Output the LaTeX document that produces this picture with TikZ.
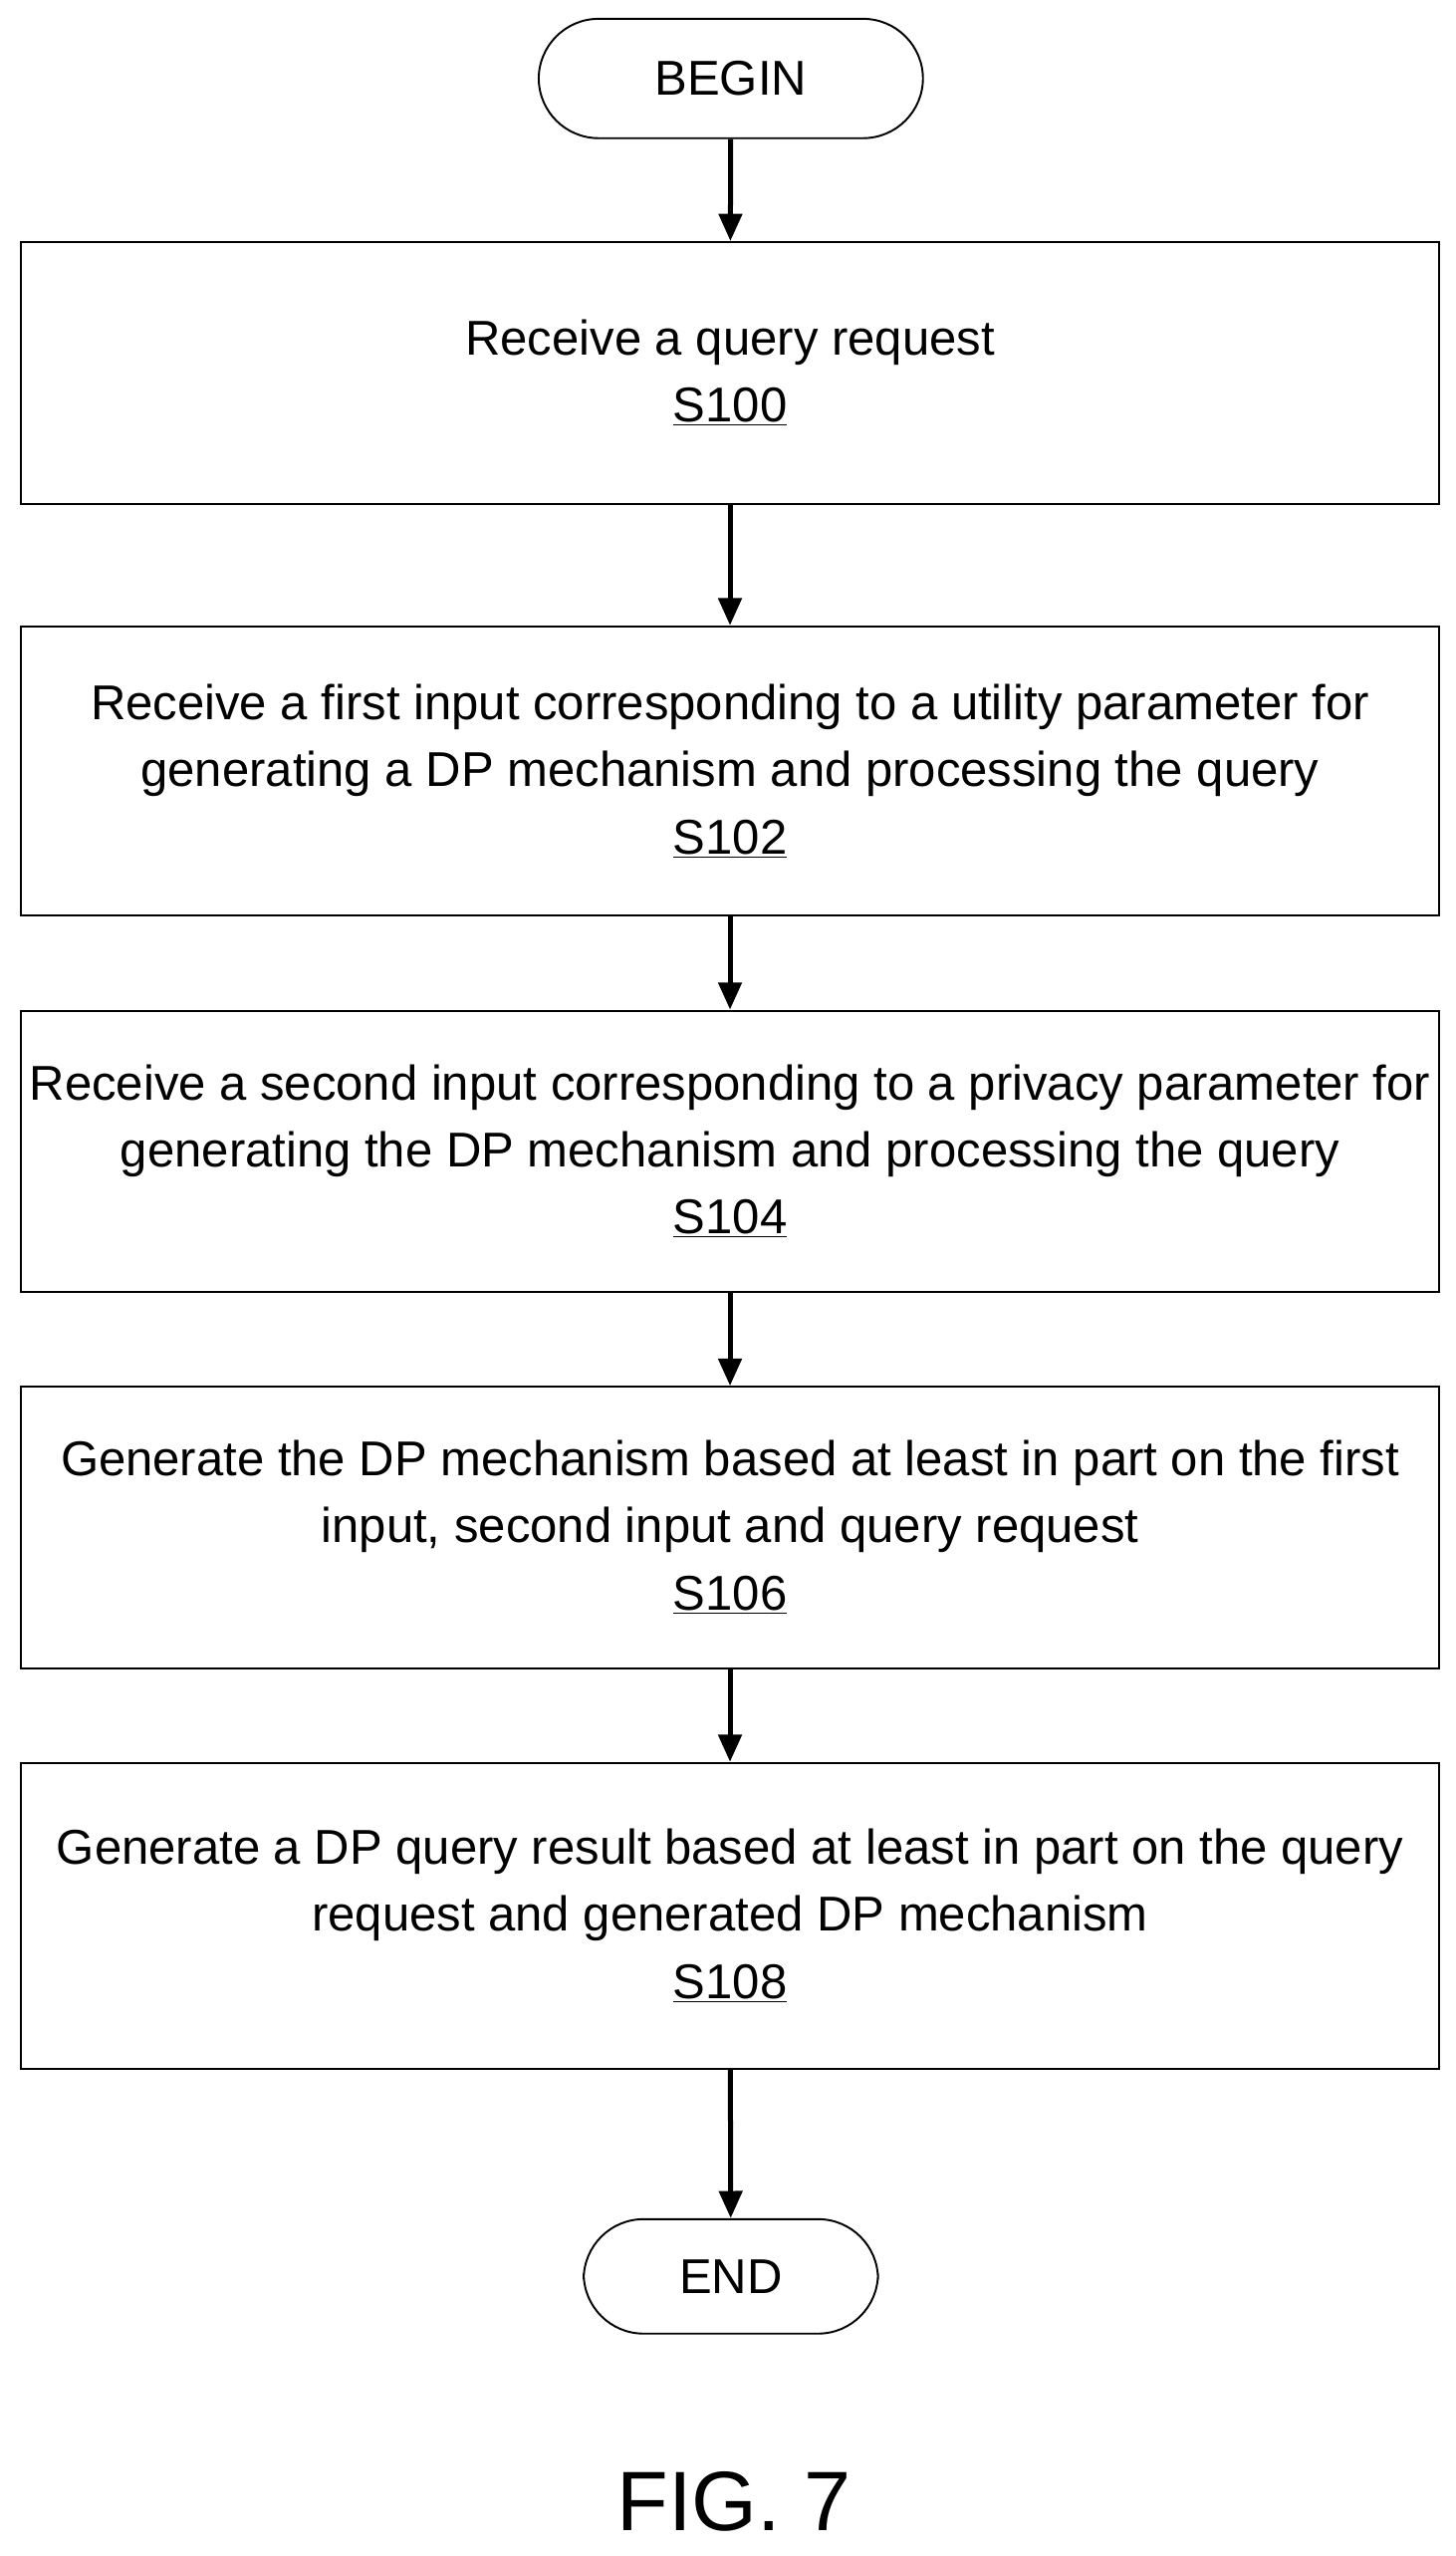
\documentclass[tikz,border=0pt]{standalone}
\usepackage{fontspec}
\setmainfont{Liberation Sans}
\usetikzlibrary{positioning,arrows.meta}
\begin{document}
\begin{tikzpicture}[x=0.03cm, y=-0.03cm, every node/.style={font=\fontsize{25.5}{35}\selectfont},
  stepbox/.style={draw, line width=1pt, minimum width=26.01cm, align=center, inner sep=0pt},
  term/.style={draw, line width=1pt, rounded corners=1.1cm, inner sep=0pt},
  flow/.style={-{Triangle[length=0.5cm,width=0.42cm]}, line width=2.6pt}]
\useasboundingbox (0,0) rectangle (890,1563);
% terminals
\node[term, minimum width=7.05cm, minimum height=2.19cm] (BEG) at (447,48) {BEGIN};
\node[term, minimum width=5.4cm, minimum height=2.1cm] (END) at (447,1392) {END};
% steps
\node[stepbox, minimum height=4.8cm] (S100) at (446.5,228) {Receive a query request\\\underline{S100}};
\node[stepbox, minimum height=5.31cm] (S102) at (446.5,471.5) {Receive a first input corresponding to a utility parameter for\\generating a DP mechanism and processing the query\\\underline{S102}};
\node[stepbox, minimum height=5.16cm] (S104) at (446.5,704) {Receive a second input corresponding to a privacy parameter for\\generating the DP mechanism and processing the query\\\underline{S104}};
\node[stepbox, minimum height=5.16cm] (S106) at (446.5,934) {Generate the DP mechanism based at least in part on the first\\input, second input and query request\\\underline{S106}};
\node[stepbox, minimum height=5.61cm] (S108) at (446.5,1171.5) {Generate a DP query result based at least in part on the query\\request and generated DP mechanism\\\underline{S108}};
% arrows
\draw[flow] (BEG) -- (S100);
\draw[flow] (S100) -- (S102);
\draw[flow] (S102) -- (S104);
\draw[flow] (S104) -- (S106);
\draw[flow] (S106) -- (S108);
\draw[flow] (S108) -- (END);
\node[font=\fontsize{44}{50}\selectfont] (FIG) at (449,1530) {FIG. 7};
\end{tikzpicture}
\end{document}
